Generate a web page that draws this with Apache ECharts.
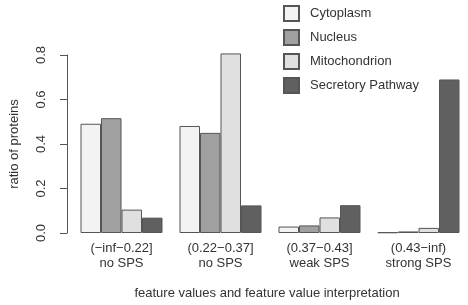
<!DOCTYPE html>
<html>
<head>
<meta charset="utf-8">
<script src="https://cdn.jsdelivr.net/npm/echarts@6/dist/echarts.min.js"></script>
<style>
html,body{margin:0;padding:0;background:#fff;}
#chart{width:468px;height:305px;}
</style>
</head>
<body>
<div id="chart"></div>
<script>
var bins=["(\u2212inf\u22120.22]\nno SPS","(0.22\u22120.37]\nno SPS","(0.37\u22120.43]\nweak SPS","(0.43\u2212inf)\nstrong SPS"];
var cytoplasm=[0.491,0.481,0.029,0.003];
var nucleus=[0.516,0.450,0.034,0.007];
var mitochondrion=[0.105,0.807,0.070,0.023];
var secretory=[0.069,0.124,0.125,0.690];

window.onload=function ()
{
    var myChart=echarts.init(document.getElementById("chart"));
    var font="Liberation Sans, Arial, sans-serif";
    function bar(name,values,color)
    {
        return {
            name:name,
            type:'bar',
            data:values,
            barWidth:20.5,
            barGap:'0%',
            clip:false,
            itemStyle:{color:color,borderColor:'#555',borderWidth:1}
        };
    }
    var option={
        animation:false,
        textStyle:{fontFamily:font},
        legend:{
            orient:'vertical',
            left:278,
            top:0,
            itemWidth:15,
            itemHeight:15,
            itemGap:7,
            icon:'rect',
            textStyle:{fontSize:13,color:'#333',padding:[0,0,0,6],lineHeight:15},
            data:['Cytoplasm','Nucleus','Mitochondrion','Secretory Pathway']
        },
        grid:{left:69,width:408,top:55,bottom:67,containLabel:false},
        xAxis:{
            type:'category',
            data:bins,
            axisLine:{show:false},
            axisTick:{show:false},
            axisLabel:{fontSize:13,color:'#333',margin:8,lineHeight:15,interval:0},
            name:'feature values and feature value interpretation',
            nameLocation:'middle',
            nameGap:54,
            nameTextStyle:{fontSize:13,color:'#333',padding:[0,6,0,0]}
        },
        yAxis:{
            type:'value',
            min:0,
            max:0.8,
            interval:0.2,
            offset:5,
            splitLine:{show:false},
            axisLine:{show:true,lineStyle:{color:'#555'}},
            axisTick:{show:true,length:7,lineStyle:{color:'#555'}},
            axisLabel:{
                fontSize:13,color:'#333',rotate:90,margin:19,
                formatter:function(v){return v.toFixed(1);}
            },
            name:'ratio of proteins',
            nameLocation:'middle',
            nameGap:46,
            nameTextStyle:{fontSize:13,color:'#333'}
        },
        series:[
            bar('Cytoplasm',cytoplasm,'#f3f3f3'),
            bar('Nucleus',nucleus,'#a0a0a0'),
            bar('Mitochondrion',mitochondrion,'#e0e0e0'),
            bar('Secretory Pathway',secretory,'#606060')
        ]
    };
    myChart.setOption(option);
}
</script>
</body>
</html>
